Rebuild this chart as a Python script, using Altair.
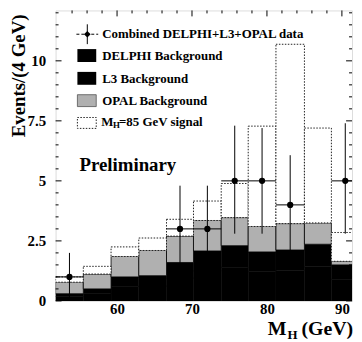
import altair as alt
import pandas as pd

# ---- data ----
bin_lo = [51.8, 55.5, 59.2, 62.9, 66.6, 70.2, 73.9, 77.5, 81.2, 85.0, 88.6]
bin_hi = [55.5, 59.2, 62.9, 66.6, 70.2, 73.9, 77.5, 81.2, 85.0, 88.6, 92.3]
delphi_bkg = [0.18, 0.30, 0.60, 0.62, 0.95, 1.25, 1.40, 1.22, 1.28, 1.42, 0.90]
l3_bkg     = [0.12, 0.20, 0.40, 0.43, 0.65, 0.83, 0.90, 0.82, 0.84, 0.94, 0.60]
opal_bkg   = [0.48, 0.62, 0.85, 1.05, 1.10, 1.27, 1.17, 1.06, 1.10, 0.89, 0.15]
signal_85  = [0.22, 0.32, 0.40, 0.52, 0.70, 0.81, 1.42, 4.18, 7.47, 3.95, 1.20]
data_n  = [1, 0, 0, 0, 3, 3, 5, 5, 4, 0, 5]
data_lo = [0.0, 0, 0, 0, 1.3, 1.3, 2.8, 2.8, 2.0, 0, 2.8]
data_hi = [2.0, 0, 0, 0, 4.8, 4.8, 7.3, 7.2, 6.07, 0, 7.4]

x_ticks_major = [60, 70, 80, 90]
x_ticks_minor = [54, 56, 58, 62, 64, 66, 68, 72, 74, 76, 78, 82, 84, 86, 88]
y_ticks_major = [0, 2.5, 5, 7.5, 10]
y_ticks_minor = [0.5, 1, 1.5, 2, 3, 3.5, 4, 4.5, 5.5, 6, 6.5, 7, 8, 8.5, 9, 9.5,
                 10.5, 11, 11.5, 12]

legend_labels = ["Combined DELPHI+L3+OPAL data", "DELPHI Background",
                 "L3 Background", "OPAL Background"]
signal_label = ["M", "H", "=85 GeV signal"]

# ---- tables ----
comps = [("DELPHI", delphi_bkg), ("L3", l3_bkg), ("OPAL", opal_bkg), ("Signal", signal_85)]
rows = []
base = [0.0] * len(bin_lo)
for name, vals in comps:
    for i in range(len(bin_lo)):
        rows.append({"comp": name, "lo": bin_lo[i], "hi": bin_hi[i],
                     "y0": base[i], "y1": base[i] + vals[i]})
        base[i] = base[i] + vals[i]
stack_df = pd.DataFrame(rows)

pts = pd.DataFrame({"lo": bin_lo, "hi": bin_hi, "n": data_n,
                    "elo": data_lo, "ehi": data_hi})
pts["c"] = (pts["lo"] + pts["hi"]) / 2
pts = pts[pts["n"] > 0]

W, H = 299, 293
FONT = "Liberation Serif"
xs = alt.Scale(domain=[51.8, 91.35], nice=False, zero=False)
ys = alt.Scale(domain=[0, 12.1], nice=False, zero=False)

X_AXIS = alt.Axis(values=x_ticks_major, ticks=False, domain=False, grid=False,
                  labelFont=FONT, labelFontWeight="bold", labelFontSize=15,
                  labelColor="black", labelPadding=1, labelFlush=False)
Y_AXIS = alt.Axis(values=y_ticks_major, ticks=False, domain=False, grid=False,
                  labelFont=FONT, labelFontWeight="bold", labelFontSize=15,
                  labelColor="black", labelPadding=10,
                  labelExpr="'' + datum.value")

def X(f):
    return alt.X(f, scale=xs, axis=X_AXIS, title=None)

def Y(f):
    return alt.Y(f, scale=ys, axis=Y_AXIS, title=None)

def rect_layer(comp, **style):
    return alt.Chart(stack_df[stack_df.comp == comp]).mark_rect(clip=True, **style).encode(
        x=X("lo:Q"), x2="hi:Q", y=Y("y0:Q"), y2="y1:Q")

delphi_layer = rect_layer("DELPHI", color="black", stroke="black", strokeWidth=0.5)
l3_layer = rect_layer("L3", color="black", stroke="black", strokeWidth=0.5)
opal_layer = rect_layer("OPAL", color="#b0b0b0", stroke="black", strokeWidth=0.8)
sig_layer = rect_layer("Signal", color="white", stroke="#222222", strokeWidth=1,
                       strokeDash=[1.5, 1.5])

err_v = alt.Chart(pts).mark_rule(color="black", strokeWidth=1, clip=True).encode(
    x=X("c:Q"), y=Y("elo:Q"), y2="ehi:Q")
err_h = alt.Chart(pts).mark_rule(color="black", strokeWidth=1, clip=True).encode(
    x=X("lo:Q"), x2="hi:Q", y=Y("n:Q"))
marks = alt.Chart(pts).mark_point(shape="circle", filled=True, color="black",
                                  size=40, opacity=1, clip=True).encode(
    x=X("c:Q"), y=Y("n:Q"))

# inward ticks
def xt(vals, y0, y1):
    return alt.Chart(pd.DataFrame({"v": vals})).mark_rule(color="black", strokeWidth=1).encode(
        x=X("v:Q"), y=alt.value(y0), y2=alt.value(y1))

def yt(vals, x0, x1):
    return alt.Chart(pd.DataFrame({"v": vals})).mark_rule(color="black", strokeWidth=1).encode(
        y=Y("v:Q"), x=alt.value(x0), x2=alt.value(x1))

ticks = [xt(x_ticks_major, 0, 6), xt(x_ticks_minor, 0, 3),
         yt(y_ticks_major, 0, 6), yt(y_ticks_minor, 0, 3),
         yt(y_ticks_major, W - 6, W), yt(y_ticks_minor, W - 3, W)]

one = pd.DataFrame({"a": [0]})

def txt(t, x, y, size, align="left", baseline="middle", angle=0):
    kw = dict(font=FONT, fontWeight="bold", fontSize=size, align=align,
              baseline=baseline, color="black")
    if angle:
        kw["angle"] = angle
    return alt.Chart(pd.DataFrame({"t": [t]})).mark_text(**kw).encode(
        text="t:N", x=alt.value(x), y=alt.value(y))

def box(x0, x1, y0, y1, **style):
    return alt.Chart(one).mark_rect(**style).encode(
        x=alt.value(x0), x2=alt.value(x1), y=alt.value(y0), y2=alt.value(y1))

legend = [
    alt.Chart(one).mark_rule(color="black", strokeWidth=1, strokeDash=[3, 2]).encode(
        x=alt.value(21), x2=alt.value(43), y=alt.value(24)),
    alt.Chart(one).mark_rule(color="black", strokeWidth=1).encode(
        x=alt.value(32), y=alt.value(14), y2=alt.value(34)),
    alt.Chart(one).mark_point(shape="diamond", filled=True, color="black", size=45,
                              opacity=1).encode(x=alt.value(32), y=alt.value(24)),
    txt(legend_labels[0], 47, 24, 13),
    box(22, 41, 39, 52, color="black"),
    txt(legend_labels[1], 47, 46, 13),
    box(22, 41, 62, 75, color="black"),
    txt(legend_labels[2], 47, 69, 13),
    box(22, 41, 85, 97, color="#b0b0b0", stroke="#555555", strokeWidth=0.8),
    txt(legend_labels[3], 47, 91, 13),
    box(22, 41, 108, 119, color="white", stroke="#222222", strokeWidth=1,
        strokeDash=[1.5, 1.5]),
    txt(signal_label[0], 46, 113, 13),
    txt(signal_label[1], 58, 116, 9),
    txt(signal_label[2], 64, 113, 13),
]

texts = [
    txt("Preliminary", 24, 162, 19, baseline="alphabetic"),
    txt("Events/(4 GeV)", -37, 66, 19, align="center", angle=270),
    txt("M", 214, 327, 20, baseline="alphabetic"),
    txt("H", 234, 331, 13, baseline="alphabetic"),
    txt("(GeV)", 248, 327, 20, baseline="alphabetic"),
]

chart = alt.layer(delphi_layer, l3_layer, opal_layer, sig_layer, err_v, err_h, marks,
                  *ticks, *legend, *texts).properties(
    width=W, height=H,
    autosize=alt.AutoSizeParams(type="none"),
    padding={"left": 48, "top": 1, "right": 2, "bottom": 40},
).configure_view(stroke="black", strokeWidth=1.3).configure(background="white")

chart.save("out.html", embed_options={"renderer": "svg", "actions": False})
